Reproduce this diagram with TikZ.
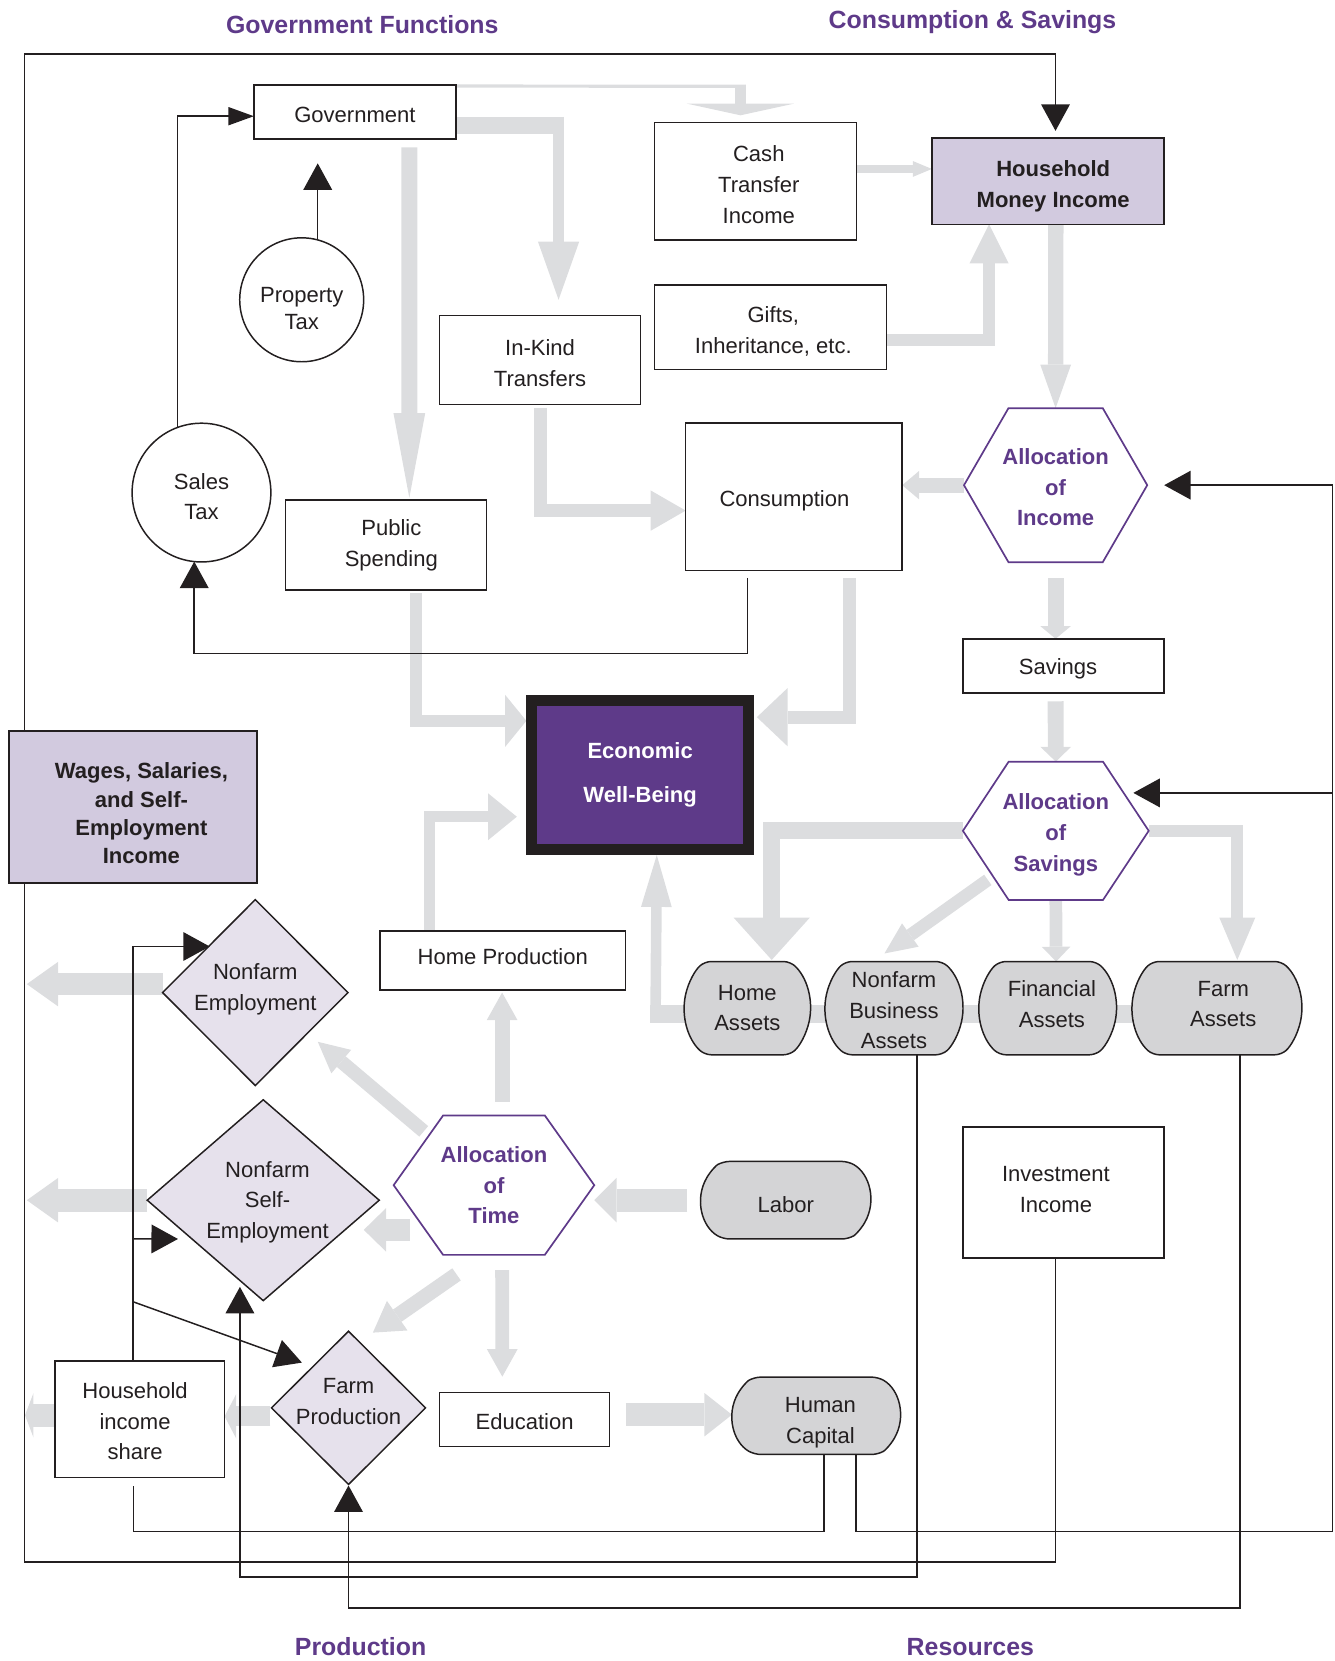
\documentclass[tikz,border=0pt]{standalone}
\usepackage{fontspec}
\setmainfont{Liberation Sans}
\usetikzlibrary{arrows.meta,shapes.misc,calc}
\pgfdeclarelayer{bg}
\pgfdeclarelayer{mid}
\pgfsetlayers{bg,mid,main}
\definecolor{purp}{HTML}{5E3A89}
\definecolor{lav}{HTML}{D2CADF}
\definecolor{diaf}{HTML}{E6E1EC}
\definecolor{pillf}{HTML}{D4D4D6}
\definecolor{flowg}{HTML}{DCDDDF}
\definecolor{ink}{HTML}{231F20}
\newcommand{\hs}[1]{\hspace*{#1pt}}
\newcommand{\tu}[1]{\rule{0pt}{#1pt}}
\begin{document}
\begin{tikzpicture}[x=1pt,y=-1pt,
  every node/.style={font=\fontsize{20.8}{29}\selectfont, inner sep=0pt, outer sep=0pt, align=center, text=ink},
  box/.style={draw=ink, line width=1.4pt, fill=white},
  sz/.style 2 args={minimum width=#1pt, minimum height=#2pt},
  tdown/.style={execute at begin node={\rule{0pt}{#1pt}}},
  tup/.style={execute at end node={\rule[-#1pt]{0pt}{0pt}}},
  pills/.style={rounded rectangle, rounded rectangle arc length=95, draw=ink, line width=1.4pt, fill=pillf, rounded corners=6pt},
  hexn/.style={font=\fontsize{20.8}{29}\selectfont\bfseries, text=purp},
  hexline/.style={draw=purp, line width=1.6pt, fill=white, line join=miter},
  dian/.style={},
  dialine/.style={draw=ink, line width=1.4pt, fill=diaf, line join=miter},
  head/.style={font=\fontsize{23.5}{28}\selectfont\bfseries, text=purp, anchor=base},
  conn/.style={draw=ink, line width=1.4pt},
  tipk/.style={-{Triangle[length=25pt,width=27pt]}},
  fl/.style={draw=flowg, line join=miter, line cap=butt},
  gt/.style 2 args={-{Triangle[length=#1pt,width=#2pt,line width=0pt]}}
]
\useasboundingbox (0,0) rectangle (1260,1568);

% headings
\node[head] (hgf) at (342,31.5) {Government Functions};
\node[head] (hcs) at (918,26.8) {Consumption \& Savings};
\node[head] (hpr) at (340.4,1563) {Production};
\node[head] (hre) at (916,1563) {Resources};

% nodes
\node[box, sz={190.7}{51}, tdown=21] (gov) at (335,105.7) {Government};
\node[box, sz={190.6}{110.7}] (cash) at (713.3,171.2) {\hs6\tu{21}Cash\\\hs6Transfer\\\hs6Income};
\node[box, fill=lav, sz={219}{81.2}, font=\fontsize{20.8}{29}\selectfont\bfseries] (hmi) at (989.2,171.1) {\hs{10}\tu{25}Household\\\hs{10}Money Income};
\node[box, circle, minimum size=117pt, font=\fontsize{20.8}{25.5}\selectfont] (pt) at (284.8,283) {\tu{31}Property\\Tax};
\node[box, sz={189.6}{84}] (ik) at (509.8,340) {\tu{21}In-Kind\\Transfers};
\node[box, sz={219}{80}] (gifts) at (727.5,309) {\hs5\tu{23}Gifts,\\\hs5Inheritance, etc.};
\node[box, circle, minimum size=131pt, font=\fontsize{20.8}{28}\selectfont] (st) at (190.2,465) {\tu{23}Sales\\Tax};
\node[box, sz={189.3}{85}] (ps) at (364.4,514.5) {\hs{10}Public\\\hs{10}Spending};
\node[box, sz={204.4}{139}, tdown=23] (cons) at (749.5,469) {\hs{-18}Consumption};
\node[hexn, sz={173}{145.4}] (ai) at (996.5,458) {\tu{19}Allocation\\of\\Income};
\node[box, sz={189.6}{51}, tdown=21] (sav) at (1003.8,628.5) {\hs{-10}Savings};
\node[draw=ink, line width=10.3pt, fill=purp, sz={204.5}{141}, outer sep=5.15pt, text=white, font=\fontsize{20.8}{42}\selectfont\bfseries] (ewb) at (604.3,731.5) {Economic\\Well-Being};
\node[hexn, sz={175.4}{130.6}] (as) at (996.7,784.3) {\tu{23}Allocation\\of\\Savings};
\node[box, fill=lav, sz={234}{143.4}, font=\fontsize{20.8}{26.5}\selectfont\bfseries] (wages) at (125.5,761.7) {\hs{16}\tu{27}Wages, Salaries,\\\hs{16}and Self-\\\hs{16}Employment\\\hs{16}Income};
\node[box, sz={232}{55.7}, tup=8] (hp) at (474.6,906.5) {Home Production};
\node[dian, sz={175}{175.5}, tup=10.4] (ne) at (241,937) {Nonfarm\\Employment};
\node[pills, sz={117}{88}] (ha) at (705.5,951.7) {Home\\Assets};
\node[pills, sz={130.3}{88}] (nba) at (843.9,951.7) {\tu{19}Nonfarm\\Business\\Assets};
\node[pills, sz={130}{88}, tup=8] (fa) at (989,951.7) {\hs8Financial\\\hs8Assets};
\node[pills, sz={160.4}{88}, tup=8] (farm) at (1148.8,951.7) {\hs{12}Farm\\\hs{12}Assets};
\node[hexn, sz={189.4}{131.6}] (at) at (466.3,1118.8) {Allocation\\of\\Time};
\node[pills, rounded rectangle arc length=120, sz={160.5}{73.2}, tdown=23] (labor) at (741.7,1133) {Labor};
\node[dian, sz={219}{189.6}] (nse) at (248.5,1133) {\hs8\tu{19}Nonfarm\\\hs8Self-\\\hs8Employment};
\node[box, sz={189.6}{123.8}, tup=6] (inv) at (1003.8,1125.6) {\hs{-14}Investment\\\hs{-14}Income};
\node[box, sz={160}{109.6}] (his) at (132,1339.8) {\hs{-9}\tu{19}Household\\\hs{-9}income\\\hs{-9}share};
\node[dian, sz={145.4}{144.6}, tup=12] (fp) at (329,1329) {Farm\\Production};
\node[box, sz={160.5}{51}, tdown=19] (edu) at (495.2,1340.1) {Education};
\node[pills, rounded rectangle arc length=120, sz={159}{73}] (hc) at (770.5,1336.5) {\hs8\tu{27}Human\\\hs8Capital};

% shapes behind the texts
\begin{pgfonlayer}{mid}
\foreach \n/\t in {ai/44.5, as/44.5, at/48}{
  \draw[hexline] ($(\n.north)+(-\t,0)$) -- ($(\n.north)+(\t,0)$) -- (\n.east) -- ($(\n.south)+(\t,0)$) -- ($(\n.south)+(-\t,0)$) -- (\n.west) -- cycle;
}
\foreach \n in {ne, nse, fp}{
  \draw[dialine] (\n.north) -- (\n.east) -- (\n.south) -- (\n.west) -- cycle;
}
\end{pgfonlayer}

% grey flows
\begin{pgfonlayer}{bg}
\draw[fl, line width=3] ([yshift=-1pt]gov.north east) -- (704,81.5);
\draw[fl, line width=10, gt={11}{101}] (699,80) -- ($(cash.north)+(-14.3,-7)$);
\draw[fl, line width=16.3] ([yshift=-12.6pt]gov.east) -- (532.5,118.3);
\draw[fl, line width=10.5, gt={55}{39}] (527.3,110.2) -- ($(ik.north)+(17.5,-15)$);
\draw[fl, line width=15, gt={80}{30}] ($(gov.south)+(51.5,8)$) -- ($(ps.north)+(22,-2)$);
\draw[fl, line width=8, gt={18}{15}] ($(cash.east)+(0,-11.7)$) -- ($(hmi.west)+(0,-11.6)$);
\draw[fl, line width=11, gt={37}{37}] ($(gifts.east)+(0,12)$) -| ($(hmi.south)+(-55.5,0)$);
\draw[fl, line width=14.5, gt={41}{29}] ($(hmi.south)+(7.5,0)$) -- (ai.north);
\draw[fl, line width=14, gt={16}{27}] (ai.west) -- (ai.west -| cons.east);
\draw[fl, line width=12, gt={33}{38}] ($(ik.south)+(0.2,3)$) |- ($(cons.west)+(0,13)$);
\draw[fl, line width=11, gt={20}{49}] ($(ps.south)+(28,3)$) |- ($(ewb.west)+(0,-51)$);
\draw[fl, line width=12, gt={29}{55}] ($(cons.south)+(52.5,7.5)$) |- ($(ewb.east)+(2.8,-54.5)$);
\draw[fl, line width=15, gt={12}{29}] ($(ai.south)+(0,15)$) -- ($(sav.north)+(-7.3,0)$);
\draw[fl, line width=15, gt={14}{29}] ($(sav.south)+(-7.3,8)$) -- (as.north);
\draw[fl, line width=16, gt={40}{72}] (as.west) -| ($(ha.north)+(23,-1.5)$);
\draw[fl, line width=12, gt={30}{27}] ($(as.south west)+(23.5,-19)$) -- ($(nba.north)+(-9,-7.6)$);
\draw[fl, line width=12, gt={14}{27}] (as.south) -- ($(fa.north)+(8,0)$);
\draw[fl, line width=11, gt={40}{34}] (as.east) -| ($(farm.north)+(19.2,-1.5)$);
\draw[fl, line width=17] ($(ha.west)+(-32,5.3)$) -- ($(farm.center)+(0,5.3)$);
\draw[fl, line width=10, gt={49}{29}] ($(ha.west)+(-27,13.8)$) -- ($(ewb.south)+(15.7,0)$);
\draw[fl, line width=10, gt={27}{44}] ($(hp.north)+(-69.4,0)$) |- ($(ewb.west)+(-9,39.5)$);
\draw[fl, line width=14, gt={26}{29}] ($(at.north)+(7.7,-13)$) -- ($(hp.south)+(-0.6,2.6)$);
\draw[fl, line width=13, gt={29}{29}] ($(at.north west)+(28.4,15)$) -- ($(ne.south east)+(-28.5,-41.3)$);
\draw[fl, line width=21, gt={21}{41}] ($(at.west)+(15.4,42.2)$) -- ($(nse.east)+(-14.6,28)$);
\draw[fl, line width=14, gt={28}{34}] ($(at.south west)+(59.4,18.4)$) -- ($(fp.north)+(23,1.3)$);
\draw[fl, line width=13, gt={26}{29}] ($(at.south)+(7.7,14.5)$) -- ($(edu.north)+(-21,-15)$);
\draw[fl, line width=22, gt={21}{42}] ($(labor.west)+(-12.5,0)$) -- (at.east |- labor.west);
\draw[fl, line width=22, gt={26}{41}] ($(edu.east)+(15.4,-4.6)$) -- ($(hc.west)+(0,-1)$);
\draw[fl, line width=19, gt={11}{42}] ($(fp.west)+(-1,8)$) -- ($(his.east)+(0,-2.8)$);
\draw[fl, line width=22, gt={8}{42}] ($(his.west)+(0,-3.8)$) -- ($(his.west)+(-28.4,-3.8)$);
\draw[fl, line width=21, gt={29.5}{42}] ($(ne.west)+(0.5,-8)$) -- ($(ne.west)+(-128.2,-8)$);
\draw[fl, line width=22, gt={29.5}{42}] (nse.west) -- ($(nse.west)+(-113.7,0)$);
\end{pgfonlayer}

% black connectors
\draw[conn, tipk] (23,0 |- wages.north) -- (23,51) -- (996.4,51) -- ($(hmi.north)+(7.2,-7)$);
\draw[conn] ($(inv.south)+(-7.4,0)$) -- ++(0,287.1) -| (23,0 |- wages.south);
\draw[conn, -{Triangle[length=24pt,width=17pt]}] (st.110) |- ([yshift=-4pt]gov.west);
\draw[conn, tipk] (pt.75) -- ($(pt.75 |- gov.south)+(0,23)$);
\draw[conn, tipk] ($(cons.south)+(-43.8,7)$) -- ($(cons.south)+(-43.8,78.4)$) -| (st.264);
\draw[conn, tipk] ($(hc.south)+(37.5,0)$) -- ++(0,72.6) -- (1257.7,1445.6) -- (1257.7,458) -- ($(ai.east)+(16,0)$);
\draw[conn, tipk] (1257.7,748.5) -- ($(as.east)+(-14.5,-35.8)$);
\draw[conn] ($(hc.south)+(7.5,0)$) -- ++(0,72.6) -| ($(his.south)+(-6.2,8)$);
\draw[conn, tipk] ($(his.north)+(-6.5,0)$) |- ($(ne.west)+(44.5,-43.5)$);
\draw[conn, tipk] ($(his.north)+(-6.5,-115.5)$) -- ($(nse.west)+(29,36.6)$);
\draw[conn, tipk] ($(his.north)+(-6,-56)$) -- ($(fp.north)+(-44,29.6)$);
\draw[conn, tipk] ($(nba.south)+(21.7,0)$) -- ++(0,492.9) -| ($(nse.south)+(-22,-13)$);
\draw[conn, tipk] ($(farm.south)+(21.7,0)$) -- ++(0,522.3) -| ($(fp.south)+(0,1)$);
\end{tikzpicture}
\end{document}
